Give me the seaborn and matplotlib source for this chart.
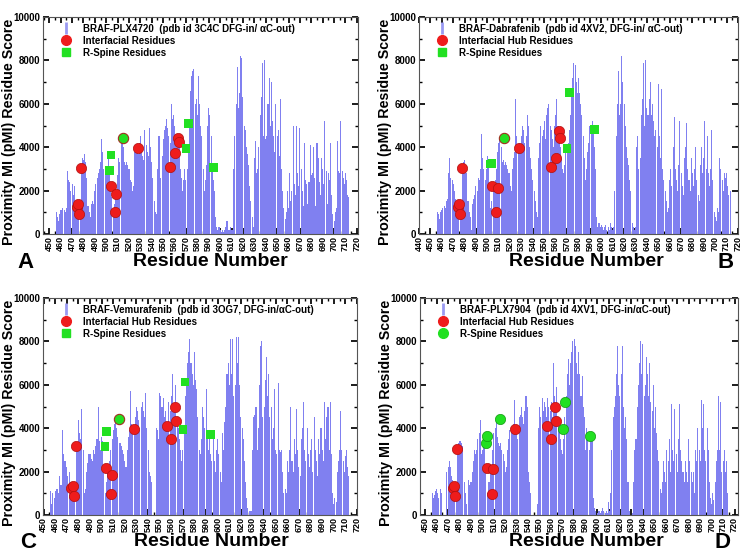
import numpy as np
import pandas as pd
import matplotlib
matplotlib.use('Agg')
import matplotlib.pyplot as plt
import seaborn as sns
from matplotlib.lines import Line2D
from matplotlib.ticker import MultipleLocator

# residue numbers 456..715 (one bar per residue)
residues = np.arange(456, 716)

# pMI residue scores, in hundreds
score_a = [
    10, 8, 6, 9, 11, 11, 12, 11, 10, 12,
    29, 25, 24, 20, 23, 18, 22, 15, 13, 12,
    9, 14, 30, 35, 34, 37, 33, 26, 13, 10,
    8, 14, 15, 14, 20, 23, 26, 28, 30, 33,
    44, 38, 30, 27, 28, 30, 36, 27, 20, 17,
    10, 14, 17, 20, 27, 35, 33, 42, 44, 40,
    33, 32, 33, 32, 30, 25, 24, 20, 22, 38,
    39, 40, 37, 42, 45, 40, 36, 34, 48, 41,
    38, 36, 49, 40, 33, 26, 15, 10, 9, 30,
    45, 45, 26, 36, 44, 48, 50, 53, 49, 45,
    42, 60, 53, 55, 50, 46, 45, 44, 42, 30,
    26, 20, 25, 30, 25, 30, 39, 51, 66, 73,
    75, 76, 60, 62, 55, 73, 60, 50, 45, 30,
    20, 25, 32, 50, 58, 55, 45, 30, 25, 20,
    8, 3, 2, 3, 2, 1, 2, 1, 2, 3,
    6, 2, 2, 3, 2, 2, 30, 45, 60, 77,
    58, 65, 82, 81, 63, 50, 48, 40, 37, 32,
    22, 15, 8, 3, 35, 43, 28, 30, 40, 55,
    63, 79, 45, 80, 44, 45, 60, 72, 50, 70,
    52, 45, 38, 60, 45, 48, 36, 62, 30, 20,
    12, 7, 10, 20, 12, 28, 15, 20, 50, 23,
    18, 50, 28, 22, 49, 30, 20, 13, 42, 25,
    23, 14, 24, 41, 27, 28, 40, 26, 13, 42,
    35, 24, 18, 35, 30, 23, 52, 29, 14, 28,
    25, 42, 18, 9, 6, 10, 12, 43, 29, 28,
    52, 29, 26, 23, 28, 25, 18, 17, 0, 0,
]
score_b = [
    10, 9, 7, 10, 11, 12, 13, 12, 15, 16,
    28, 35, 26, 25, 23, 20, 16, 14, 13, 10,
    9, 12, 30, 33, 34, 30, 28, 15, 10, 8,
    2, 14, 16, 18, 22, 20, 26, 25, 30, 46,
    35, 30, 25, 30, 36, 34, 20, 12, 15, 22,
    20, 25, 30, 38, 42, 44, 40, 33, 34, 32,
    33, 32, 30, 28, 22, 20, 30, 35, 38, 62,
    45, 40, 42, 38, 45, 50, 48, 42, 45, 55,
    50, 40, 35, 30, 25, 20, 15, 10, 8, 35,
    42, 50, 45, 48, 52, 44, 55, 58, 60, 50,
    48, 44, 40, 50, 55, 62, 50, 45, 40, 35,
    30, 28, 32, 40, 38, 42, 48, 55, 65, 72,
    79, 78, 70, 65, 72, 65, 60, 55, 45, 35,
    25, 30, 38, 42, 50, 48, 52, 46, 40, 30,
    8, 3, 5, 3, 4, 3, 2, 3, 4, 2,
    3, 2, 5, 3, 2, 3, 20, 45, 60, 75,
    55, 60, 82, 70, 60, 50, 40, 35, 32, 25,
    20, 5, 3, 2, 3, 40, 45, 30, 35, 55,
    62, 79, 50, 80, 58, 55, 62, 70, 55, 60,
    52, 45, 48, 40, 69, 45, 35, 67, 30, 25,
    20, 15, 10, 12, 25, 30, 22, 40, 54, 30,
    25, 20, 32, 52, 28, 22, 18, 35, 40, 51,
    30, 25, 20, 35, 28, 22, 30, 40, 25, 18,
    15, 32, 40, 28, 35, 52, 30, 45, 28, 22,
    30, 48, 25, 10, 8, 6, 12, 10, 35, 30,
    25, 20, 28, 26, 28, 22, 18, 20, 0, 0,
]
score_c = [
    11, 5, 10, 8, 11, 12, 12, 10, 18, 14,
    39, 28, 25, 25, 22, 18, 20, 15, 12, 9,
    10, 15, 32, 30, 44, 38, 35, 49, 30, 10,
    12, 20, 24, 28, 28, 26, 25, 30, 28, 32,
    35, 50, 34, 30, 36, 34, 20, 10, 15, 22,
    18, 25, 30, 35, 39, 42, 45, 40, 36, 33,
    33, 32, 30, 28, 25, 22, 30, 36, 39, 57,
    42, 40, 38, 45, 50, 48, 44, 40, 50, 52,
    48, 45, 56, 40, 30, 20, 18, 15, 0, 0,
    0, 40, 39, 35, 56, 55, 50, 54, 45, 48,
    42, 40, 52, 48, 55, 65, 50, 48, 60, 45,
    40, 35, 30, 25, 30, 38, 55, 62, 70, 75,
    81, 70, 65, 60, 75, 62, 58, 45, 30, 28,
    35, 50, 45, 40, 58, 38, 30, 35, 28, 25,
    35, 25, 20, 30, 35, 28, 20, 15, 38, 30,
    43, 50, 65, 70, 60, 81, 65, 81, 55, 60,
    82, 70, 82, 60, 45, 40, 35, 25, 15, 8,
    3, 2, 2, 2, 30, 45, 46, 50, 30, 40,
    60, 78, 80, 45, 50, 62, 73, 55, 65, 45,
    50, 35, 40, 58, 30, 28, 61, 30, 29, 30,
    20, 10, 12, 10, 25, 20, 30, 50, 25, 20,
    35, 28, 49, 30, 22, 18, 35, 40, 52, 30,
    25, 40, 28, 22, 30, 35, 20, 45, 30, 25,
    18, 35, 28, 40, 30, 25, 52, 35, 45, 50,
    30, 52, 28, 10, 5, 8, 6, 20, 25, 30,
    48, 30, 25, 20, 27, 30, 22, 18, 0, 0,
]
score_d = [
    10, 8, 9, 11, 12, 10, 8, 12, 10, 0,
    0, 0, 0, 20, 22, 25, 22, 18, 16, 14,
    12, 8, 30, 33, 34, 34, 33, 32, 15, 10,
    5, 0, 16, 14, 15, 20, 25, 30, 28, 30,
    35, 38, 44, 28, 30, 35, 37, 22, 10, 15,
    15, 20, 22, 30, 38, 40, 44, 36, 33, 32,
    33, 30, 28, 25, 20, 22, 30, 35, 39, 40,
    38, 42, 53, 40, 38, 35, 45, 46, 50, 45,
    42, 48, 55, 50, 20, 15, 10, 0, 0, 0,
    0, 0, 5, 40, 50, 45, 54, 48, 52, 50,
    45, 54, 50, 48, 52, 45, 70, 55, 50, 59,
    45, 40, 35, 30, 28, 35, 45, 55, 65, 72,
    60, 70, 75, 80, 81, 78, 70, 65, 75, 65,
    55, 64, 50, 45, 30, 40, 35, 30, 38, 35,
    38, 8, 3, 2, 1, 2, 2, 1, 2, 3,
    2, 1, 2, 1, 6, 2, 10, 30, 45, 50,
    55, 65, 78, 60, 55, 65, 78, 50, 40, 45,
    35, 15, 2, 0, 0, 1, 15, 30, 35, 50,
    60, 70, 80, 65, 79, 55, 60, 73, 65, 55,
    70, 52, 48, 60, 40, 50, 38, 30, 25, 12,
    10, 15, 25, 20, 15, 30, 25, 35, 20, 51,
    30, 25, 49, 28, 20, 35, 51, 30, 25, 20,
    15, 25, 20, 15, 35, 25, 20, 15, 20, 10,
    30, 25, 40, 30, 25, 53, 40, 51, 30, 25,
    40, 30, 15, 8, 5, 10, 7, 15, 25, 30,
    55, 30, 52, 20, 25, 30, 20, 25, 10, 0,
]

# interfacial hub residues (red) and R-spine residues (green)
hub_res = [474, 475, 476, 478, 504, 508, 509, 528, 556, 560, 563, 564]
hub_a = [1240, 1390, 920, 3060, 2220, 1000, 1850, 3970, 3080, 3740, 4440, 4230]
hub_b = [1240, 1390, 920, 3060, 2190, 1000, 2100, 3970, 3080, 3500, 4750, 4410]
hub_c = [1230, 1350, 890, 3200, 2180, 970, 1830, 3950, 4110, 3490, 4980, 4350]
hub_d = [1230, 1350, 890, 3030, 2180, 970, 2110, 3950, 4110, 3490, 4980, 4350]

spine_res = [503, 504, 515, 570, 572, 594]
spine_a = [2920, 3640, 4410, 3950, 5100, 3060]
spine_b = [3230, 3260, 4410, 3950, 6510, 4820]
spine_c = [3150, 3850, 4410, 3950, 6120, 3720]
spine_d = [3310, 3650, 4410, 3970, 5200, 3620]

titles = [
    'BRAF-PLX4720  (pdb id 3C4C DFG-in/ \u03b1C-out)',
    'BRAF-Dabrafenib  (pdb id 4XV2, DFG-in/ \u03b1C-out)',
    'BRAF-Vemurafenib  (pdb id 3OG7, DFG-in/\u03b1C-out)',
    'BRAF-PLX7904  (pdb id 4XV1, DFG-in/\u03b1C-out)',
]
hub_labels = ['Interfacial Residues', 'Interfacial Hub Residues',
              'Interfacial Hub Residues', 'Interfacial Hub Residues']
letters = ['A', 'B', 'C', 'D']

BAR = '#8080f0'
RED = '#ee1c1c'
GREEN = '#22e022'

sns.set_theme(style='white')
plt.rcParams['font.family'] = ['Liberation Sans', 'DejaVu Sans']
plt.rcParams['font.weight'] = 'bold'
plt.rcParams['text.color'] = 'black'
plt.rcParams['axes.labelcolor'] = 'black'
plt.rcParams['xtick.color'] = 'black'
plt.rcParams['ytick.color'] = 'black'

fig = plt.figure(figsize=(7.42, 5.52), dpi=100)
W, H = 742, 552

# pixel boxes (left, top, right, bottom)
boxes = [(43, 17, 358, 234), (419, 17, 738, 234),
         (43, 298, 357, 515), (420, 298, 738, 515)]
xlims = [(444.5, 721), (440, 720), (449.5, 717), (445.5, 723)]
xstarts = [450, 440, 450, 450]
scores = [score_a, score_b, score_c, score_d]
hubs = [hub_a, hub_b, hub_c, hub_d]
spines = [spine_a, spine_b, spine_c, spine_d]
letter_pos = [(26, 263), (726, 263), (28, 542), (722, 543)]
xlabel_pos = [(210, 261), (586, 261), (211, 541), (586, 541)]
ylabel_x = [9, 385, 9, 386]

for i in range(4):
    l, t, r, b = boxes[i]
    ax = fig.add_axes([l / W, (H - b) / H, (r - l) / W, (b - t) / H])
    df = pd.DataFrame({'res': residues, 'score': np.array(scores[i]) * 100})
    sns.barplot(data=df, x='res', y='score', native_scale=True, color=BAR,
                saturation=1, width=0.9, errorbar=None, linewidth=0, ax=ax)

    hub_df = pd.DataFrame({'res': hub_res, 'val': hubs[i]})
    sns.scatterplot(data=hub_df, x='res', y='val', color=RED, s=55,
                    edgecolor='#b01010', linewidth=0.5, zorder=4, ax=ax)
    sp = pd.DataFrame({'res': spine_res, 'val': spines[i]})
    if i == 3:
        sns.scatterplot(data=sp, x='res', y='val', color=GREEN, s=55,
                        edgecolor='#119911', linewidth=0.5, zorder=5, ax=ax)
        spine_marker = 'o'
    else:
        sq = sp.drop(index=2)
        sns.scatterplot(data=sq, x='res', y='val', color=GREEN, marker='s',
                        s=38, edgecolor='none', zorder=5, ax=ax)
        sns.scatterplot(data=sp.iloc[[2]], x='res', y='val', color=GREEN,
                        s=55, edgecolor='#a03020', linewidth=0.8, zorder=5, ax=ax)
        spine_marker = 's'

    ax.set_xlim(*xlims[i])
    ax.set_ylim(0, 10000)
    ax.set_xticks(np.arange(xstarts[i], 721, 10))
    ax.xaxis.set_minor_locator(MultipleLocator(5))
    ax.set_yticks(np.arange(0, 10001, 2000))
    ax.yaxis.set_minor_locator(MultipleLocator(1000))
    ax.tick_params(axis='x', which='major', labelsize=6.5, rotation=90,
                   direction='in', length=4, top=True, bottom=True, pad=1.5)
    ax.tick_params(axis='x', which='minor', direction='in', length=2,
                   top=True, bottom=True)
    ax.tick_params(axis='y', which='major', labelsize=7, direction='in',
                   length=4, left=True, right=True, pad=2)
    ax.tick_params(axis='y', which='minor', direction='in', length=2,
                   left=True, right=True)
    for lab in ax.get_xticklabels() + ax.get_yticklabels():
        lab.set_fontweight('bold')
    for s in ax.spines.values():
        s.set_color('#555555')
        s.set_linewidth(0.8)

    ax.set_xlabel('Residue Number', fontsize=14, fontweight='bold', va='center')
    ax.xaxis.set_label_coords((xlabel_pos[i][0] - l) / (r - l),
                              -(xlabel_pos[i][1] - b) / (b - t))
    ax.set_ylabel('Proximity MI (pMI) Residue Score', fontsize=10.3,
                  fontweight='bold', va='center')
    ax.yaxis.set_label_coords((ylabel_x[i] - l) / (r - l), 0.47)

    handles = [
        Line2D([], [], marker='|', color='#9a9af2', linestyle='None',
               markersize=8, markeredgewidth=2),
        Line2D([], [], marker='o', color=RED, linestyle='None', markersize=7),
        Line2D([], [], marker=spine_marker, color=GREEN, linestyle='None',
               markersize=6 if spine_marker == 's' else 7),
    ]
    ax.legend(handles, [titles[i], hub_labels[i], 'R-Spine Residues'],
              loc='upper left', frameon=False,
              prop={'weight': 'bold', 'size': 7}, handletextpad=0.8,
              labelspacing=0.2, borderaxespad=0.3, bbox_to_anchor=(0.02, 1.0))

    fig.text(letter_pos[i][0] / W, 1 - letter_pos[i][1] / H, letters[i],
             fontsize=16, fontweight='bold', ha='center', va='center')

fig.savefig('out.png', dpi=100)
